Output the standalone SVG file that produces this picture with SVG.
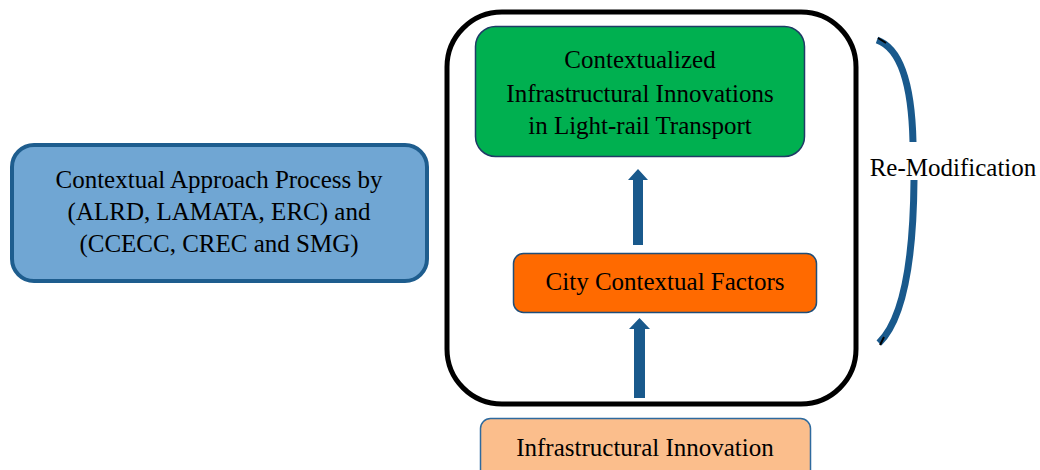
<svg xmlns="http://www.w3.org/2000/svg" width="1040" height="470" viewBox="0 0 1040 470">
<style>
text{font-family:"Liberation Serif","Times New Roman",serif;font-size:25px;fill:#000;text-anchor:middle}
.arrow{fill:#19598C}
.curve{fill:none;stroke:#19598C;stroke-width:7;stroke-linecap:butt}
</style>
<rect width="1040" height="470" fill="#fff"/>
<g id="container">
<rect x="447" y="12" width="409" height="392" rx="55" ry="55" fill="#fff" stroke="#000" stroke-width="5"/>
</g>
<g id="node-approach">
<rect x="12" y="145" width="415" height="136" rx="22" ry="22" fill="#70A6D3" stroke="#1E5D8E" stroke-width="4"/>
<text x="219" y="188">Contextual Approach Process by</text>
<text x="219" y="220">(ALRD, LAMATA, ERC) and</text>
<text x="219" y="252">(CCECC, CREC and SMG)</text>
</g>
<g id="node-contextualized">
<rect x="475.5" y="26.5" width="329" height="130" rx="20" ry="20" fill="#00B050" stroke="#1F3B66" stroke-width="1.5"/>
<text x="640" y="68">Contextualized</text>
<text x="640" y="102">Infrastructural Innovations</text>
<text x="640" y="134">in Light-rail Transport</text>
</g>
<g id="node-city">
<rect x="513.5" y="253.5" width="303" height="59" rx="10" ry="10" fill="#FF6A00" stroke="#1F4E79" stroke-width="1.5"/>
<text x="665" y="290">City Contextual Factors</text>
</g>
<g id="node-infra">
<rect x="480.5" y="418.5" width="330" height="70" rx="10" ry="10" fill="#FBBE8C" stroke="#2E6A9E" stroke-width="1.5"/>
<text x="645" y="456">Infrastructural Innovation</text>
</g>
<g id="label-remod">
<text x="953" y="176">Re-Modification</text>
</g>
<g id="connectors">
<path class="arrow" d="M633 245 L633 180 L628 180 L638 169 L648 180 L643 180 L643 245 Z"/>
<path class="arrow" d="M634 398 L634 329 L629 329 L639.5 318 L650 329 L645 329 L645 398 Z"/>
<path class="curve" d="M877 40 Q911 52 913 142"/>
<path class="curve" d="M914 180 Q913 310 879 343"/>
<path d="M878 38 L886 43" stroke="#000" stroke-width="2" fill="none"/>
<path d="M880 345 L884 337" stroke="#000" stroke-width="2" fill="none"/>
</g>
</svg>
